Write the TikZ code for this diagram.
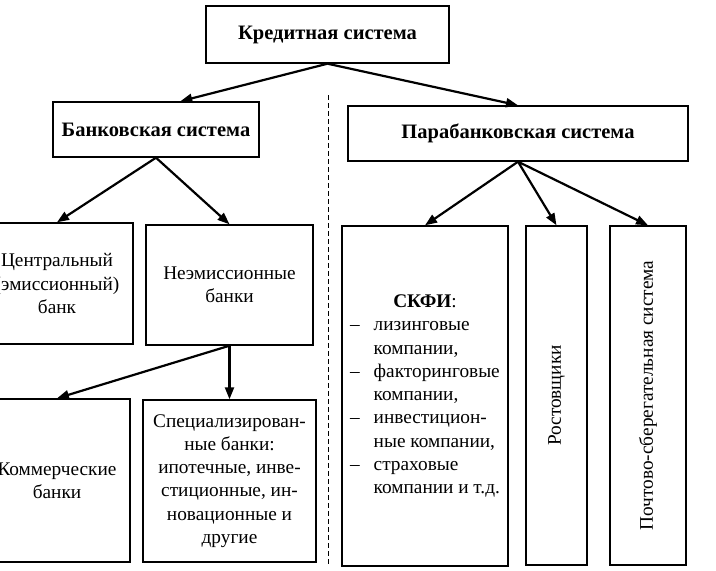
\documentclass[tikz,border=0pt]{standalone}
\usepackage{fontspec}
\usepackage{graphicx}
\setmainfont{Liberation Serif}
\usetikzlibrary{arrows.meta,calc}
\begin{document}
\begin{tikzpicture}[x=1pt,y=-1pt,
  box/.style={draw,line width=1.4pt,rectangle,inner sep=0pt,align=center,
    font=\fontsize{19.3}{23.3}\selectfont},
  hdr/.style={box,font=\fontsize{20.5}{23.3}\selectfont\bfseries},
  arr/.style={line width=2.2pt,-{Triangle[length=12pt,width=9pt]}},
  sepline/.style={line width=0.9pt,dash pattern=on 5pt off 3pt}]
\useasboundingbox (0,0) rectangle (716,571);
\clip (0,0) rectangle (716,571);
% boxes
\node[hdr,minimum width=243pt,minimum height=57pt] (kred) at (327.5,34.5) {Кредитная система};
\node[hdr,minimum width=206pt,minimum height=55pt] (bank) at (156,129.5) {Банковская система};
\node[hdr,minimum width=340pt,minimum height=55pt] (para) at (518,133.5) {Парабанковская система};
\node[box,minimum width=152pt,minimum height=121pt] (central) at (57,283.5) {Центральный\\(эмиссионный)\\банк};
\node[box,minimum width=167pt,minimum height=120pt] (neem) at (229.5,285) {Неэмиссионные\\банки};
\node[box,minimum width=146pt,minimum height=163pt] (komm) at (57,480.5) {Коммерческие\\банки};
\node[box,minimum width=173pt,minimum height=162pt] (spec) at (229.5,481) {Специализирован-\\ные банки:\\ипотечные, инве-\\стиционные, ин-\\новационные и\\другие};
\node[box,minimum width=166pt,minimum height=340pt] (skfi) at (425,396) {%
  \begin{tabular}{@{}l@{\hspace{14pt}}l@{}}
  \multicolumn{2}{c}{\textbf{СКФИ}:}\\
  – & лизинговые\\
    & компании,\\
  – & факторинговые\\
    & компании,\\
  – & инвестицион-\\
    & ные компании,\\
  – & страховые\\
    & компании и т.д.
  \end{tabular}};
\node[box,minimum width=61pt,minimum height=339pt] (rost) at (556.5,395.5) {\rotatebox{90}{Ростовщики}};
\node[box,minimum width=76pt,minimum height=339pt] (poch) at (648,395.5) {\rotatebox{90}{Почтово-сберегательная система}};
% dashed separator
\coordinate (dtop) at (328,95);
\coordinate (dbot) at (328,566);
\draw[sepline] (dtop) -- (dbot);
% connectors
\draw[arr] (kred.south) -- ($(bank.north west)!0.617!(bank.north east)$);
\draw[arr] (kred.south) -- (para.north);
\draw[arr] (bank.south) -- (central.north);
\draw[arr] (bank.south) -- (neem.north);
\draw[arr] (neem.south) -- (komm.north);
\draw[arr] (neem.south) -- (spec.north);
\draw[arr] (para.south) -- (skfi.north);
\draw[arr] (para.south) -- (rost.north);
\draw[arr] (para.south) -- (poch.north);
\end{tikzpicture}
\end{document}
